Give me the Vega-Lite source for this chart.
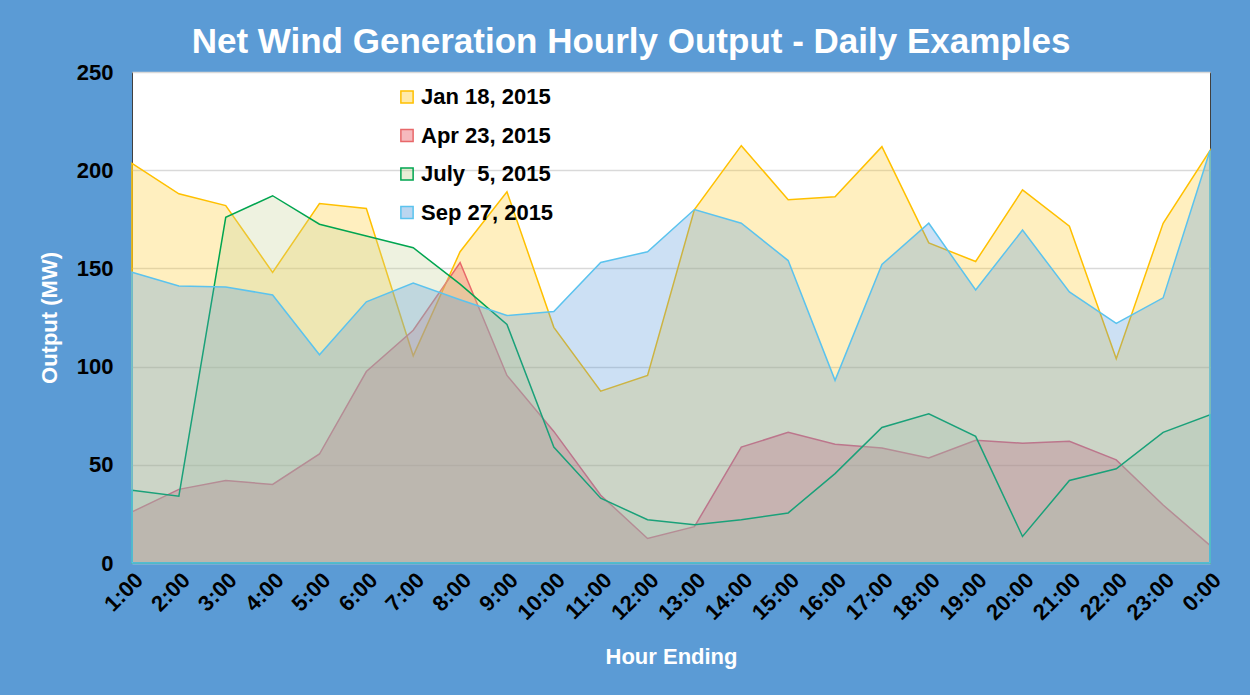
{
  "$schema": "https://vega.github.io/schema/vega-lite/v6.json",
  "width": 1078,
  "height": 491,
  "autosize": {"type": "none"},
  "padding": {"left": 132, "top": 72, "right": 40, "bottom": 132},
  "background": "#5B9BD5",
  "title": {
    "text": "Net Wind Generation Hourly Output - Daily Examples",
    "color": "white",
    "font": "Liberation Sans",
    "fontSize": 35,
    "fontWeight": "bold",
    "anchor": "middle",
    "frame": "group",
    "dx": -40,
    "offset": 1
  },
  "config": {
    "view": {"fill": "white", "stroke": "#404040", "strokeWidth": 1},
    "font": "Liberation Sans"
  },
  "data": {
    "values": [
      {"h": 1, "series": "Jan 18, 2015", "mw": 203.5},
      {"h": 2, "series": "Jan 18, 2015", "mw": 188},
      {"h": 3, "series": "Jan 18, 2015", "mw": 182},
      {"h": 4, "series": "Jan 18, 2015", "mw": 148},
      {"h": 5, "series": "Jan 18, 2015", "mw": 183},
      {"h": 6, "series": "Jan 18, 2015", "mw": 180.5},
      {"h": 7, "series": "Jan 18, 2015", "mw": 105.5},
      {"h": 8, "series": "Jan 18, 2015", "mw": 158.5},
      {"h": 9, "series": "Jan 18, 2015", "mw": 189},
      {"h": 10, "series": "Jan 18, 2015", "mw": 120},
      {"h": 11, "series": "Jan 18, 2015", "mw": 87.5},
      {"h": 12, "series": "Jan 18, 2015", "mw": 95.5},
      {"h": 13, "series": "Jan 18, 2015", "mw": 180},
      {"h": 14, "series": "Jan 18, 2015", "mw": 212.5},
      {"h": 15, "series": "Jan 18, 2015", "mw": 185},
      {"h": 16, "series": "Jan 18, 2015", "mw": 186.5},
      {"h": 17, "series": "Jan 18, 2015", "mw": 212},
      {"h": 18, "series": "Jan 18, 2015", "mw": 163},
      {"h": 19, "series": "Jan 18, 2015", "mw": 153.5},
      {"h": 20, "series": "Jan 18, 2015", "mw": 190},
      {"h": 21, "series": "Jan 18, 2015", "mw": 171.5},
      {"h": 22, "series": "Jan 18, 2015", "mw": 104},
      {"h": 23, "series": "Jan 18, 2015", "mw": 173},
      {"h": 24, "series": "Jan 18, 2015", "mw": 210},
      {"h": 1, "series": "Apr 23, 2015", "mw": 26},
      {"h": 2, "series": "Apr 23, 2015", "mw": 37.5},
      {"h": 3, "series": "Apr 23, 2015", "mw": 42},
      {"h": 4, "series": "Apr 23, 2015", "mw": 40},
      {"h": 5, "series": "Apr 23, 2015", "mw": 55.5},
      {"h": 6, "series": "Apr 23, 2015", "mw": 97.5},
      {"h": 7, "series": "Apr 23, 2015", "mw": 118.5},
      {"h": 8, "series": "Apr 23, 2015", "mw": 153},
      {"h": 9, "series": "Apr 23, 2015", "mw": 95.5},
      {"h": 10, "series": "Apr 23, 2015", "mw": 67},
      {"h": 11, "series": "Apr 23, 2015", "mw": 34.5},
      {"h": 12, "series": "Apr 23, 2015", "mw": 12.5},
      {"h": 13, "series": "Apr 23, 2015", "mw": 18.5},
      {"h": 14, "series": "Apr 23, 2015", "mw": 59},
      {"h": 15, "series": "Apr 23, 2015", "mw": 66.5},
      {"h": 16, "series": "Apr 23, 2015", "mw": 60.5},
      {"h": 17, "series": "Apr 23, 2015", "mw": 58.5},
      {"h": 18, "series": "Apr 23, 2015", "mw": 53.5},
      {"h": 19, "series": "Apr 23, 2015", "mw": 62.5},
      {"h": 20, "series": "Apr 23, 2015", "mw": 61},
      {"h": 21, "series": "Apr 23, 2015", "mw": 62},
      {"h": 22, "series": "Apr 23, 2015", "mw": 52.5},
      {"h": 23, "series": "Apr 23, 2015", "mw": 29.5},
      {"h": 24, "series": "Apr 23, 2015", "mw": 9},
      {"h": 1, "series": "July \u00a05, 2015", "mw": 37},
      {"h": 2, "series": "July \u00a05, 2015", "mw": 34},
      {"h": 3, "series": "July \u00a05, 2015", "mw": 176},
      {"h": 4, "series": "July \u00a05, 2015", "mw": 187},
      {"h": 5, "series": "July \u00a05, 2015", "mw": 172.5},
      {"h": 6, "series": "July \u00a05, 2015", "mw": 166.5},
      {"h": 7, "series": "July \u00a05, 2015", "mw": 160.5},
      {"h": 8, "series": "July \u00a05, 2015", "mw": 142},
      {"h": 9, "series": "July \u00a05, 2015", "mw": 121.5},
      {"h": 10, "series": "July \u00a05, 2015", "mw": 59},
      {"h": 11, "series": "July \u00a05, 2015", "mw": 33},
      {"h": 12, "series": "July \u00a05, 2015", "mw": 22},
      {"h": 13, "series": "July \u00a05, 2015", "mw": 19.5},
      {"h": 14, "series": "July \u00a05, 2015", "mw": 22},
      {"h": 15, "series": "July \u00a05, 2015", "mw": 25.5},
      {"h": 16, "series": "July \u00a05, 2015", "mw": 45.5},
      {"h": 17, "series": "July \u00a05, 2015", "mw": 69},
      {"h": 18, "series": "July \u00a05, 2015", "mw": 76},
      {"h": 19, "series": "July \u00a05, 2015", "mw": 64.5},
      {"h": 20, "series": "July \u00a05, 2015", "mw": 13.5},
      {"h": 21, "series": "July \u00a05, 2015", "mw": 42},
      {"h": 22, "series": "July \u00a05, 2015", "mw": 48},
      {"h": 23, "series": "July \u00a05, 2015", "mw": 66.5},
      {"h": 24, "series": "July \u00a05, 2015", "mw": 75.5},
      {"h": 1, "series": "Sep 27, 2015", "mw": 148},
      {"h": 2, "series": "Sep 27, 2015", "mw": 141},
      {"h": 3, "series": "Sep 27, 2015", "mw": 140.5},
      {"h": 4, "series": "Sep 27, 2015", "mw": 136.5},
      {"h": 5, "series": "Sep 27, 2015", "mw": 106},
      {"h": 6, "series": "Sep 27, 2015", "mw": 133},
      {"h": 7, "series": "Sep 27, 2015", "mw": 142.5},
      {"h": 8, "series": "Sep 27, 2015", "mw": 134},
      {"h": 9, "series": "Sep 27, 2015", "mw": 126},
      {"h": 10, "series": "Sep 27, 2015", "mw": 128},
      {"h": 11, "series": "Sep 27, 2015", "mw": 153},
      {"h": 12, "series": "Sep 27, 2015", "mw": 158.5},
      {"h": 13, "series": "Sep 27, 2015", "mw": 180},
      {"h": 14, "series": "Sep 27, 2015", "mw": 173},
      {"h": 15, "series": "Sep 27, 2015", "mw": 154},
      {"h": 16, "series": "Sep 27, 2015", "mw": 93},
      {"h": 17, "series": "Sep 27, 2015", "mw": 152},
      {"h": 18, "series": "Sep 27, 2015", "mw": 173},
      {"h": 19, "series": "Sep 27, 2015", "mw": 139},
      {"h": 20, "series": "Sep 27, 2015", "mw": 169.5},
      {"h": 21, "series": "Sep 27, 2015", "mw": 138},
      {"h": 22, "series": "Sep 27, 2015", "mw": 122},
      {"h": 23, "series": "Sep 27, 2015", "mw": 135},
      {"h": 24, "series": "Sep 27, 2015", "mw": 210}
    ]
  },
  "mark": {
    "type": "area",
    "fillOpacity": 0.3,
    "strokeWidth": 1.5,
    "strokeOpacity": 1
  },
  "encoding": {
    "x": {
      "field": "h",
      "type": "quantitative",
      "scale": {"domain": [1, 24], "nice": false, "zero": false},
      "axis": {
        "values": [1,2,3,4,5,6,7,8,9,10,11,12,13,14,15,16,17,18,19,20,21,22,23,24],
        "labelExpr": "datum.value == 24 ? '0:00' : datum.value + ':00'",
        "labelAngle": -45,
        "labelFontSize": 22,
        "labelFontWeight": "bold",
        "labelColor": "black",
        "labelPadding": 6,
        "labelFlush": false,
        "labelOverlap": false,
        "ticks": false,
        "grid": false,
        "domain": false,
        "title": "Hour Ending",
        "titleColor": "white",
        "titleFontSize": 22,
        "titleFontWeight": "bold",
        "titlePadding": 23
      }
    },
    "y": {
      "field": "mw",
      "type": "quantitative",
      "stack": null,
      "scale": {"domain": [0, 250], "nice": false},
      "axis": {
        "values": [0, 50, 100, 150, 200, 250],
        "labelFontSize": 22,
        "labelFontWeight": "bold",
        "labelColor": "black",
        "labelPadding": 19,
        "ticks": false,
        "domain": false,
        "gridColor": "#D9D9D9",
        "gridWidth": 1.5,
        "title": "Output (MW)",
        "titleColor": "white",
        "titleFontSize": 22,
        "titleFontWeight": "bold",
        "titlePadding": 15
      }
    },
    "fill": {
      "field": "series",
      "type": "nominal",
      "sort": ["Jan 18, 2015", "Apr 23, 2015", "July \u00a05, 2015", "Sep 27, 2015"],
      "scale": {
        "domain": ["Jan 18, 2015", "Apr 23, 2015", "July \u00a05, 2015", "Sep 27, 2015"],
        "range": ["#FFCA2A", "#E8505A", "#C6D498", "#5598DA"]
      },
      "legend": {
        "orient": "none",
        "legendX": 264,
        "legendY": 14,
        "title": null,
        "symbolType": "square",
        "symbolSize": 150,
        "symbolStrokeWidth": 1.5,
        "labelFontSize": 22,
        "labelFontWeight": "bold",
        "labelColor": "black",
        "labelOffset": 3,
        "rowPadding": 16.5,
        "symbolOpacity": 1,
        "encode": {"symbols": {"update": {"fillOpacity": {"value": 0.4}}}}
      }
    },
    "stroke": {
      "field": "series",
      "type": "nominal",
      "sort": ["Jan 18, 2015", "Apr 23, 2015", "July \u00a05, 2015", "Sep 27, 2015"],
      "scale": {
        "domain": ["Jan 18, 2015", "Apr 23, 2015", "July \u00a05, 2015", "Sep 27, 2015"],
        "range": ["#FFC000", "#E8686A", "#00A550", "#5BC3EE"]
      },
      "legend": {
        "orient": "none",
        "legendX": 264,
        "legendY": 14,
        "title": null,
        "symbolType": "square",
        "symbolSize": 150,
        "symbolStrokeWidth": 1.5,
        "labelFontSize": 22,
        "labelFontWeight": "bold",
        "labelColor": "black",
        "labelOffset": 3,
        "rowPadding": 16.5,
        "encode": {"symbols": {"update": {"fillOpacity": {"value": 0.4}}}}
      }
    }
  }
}
